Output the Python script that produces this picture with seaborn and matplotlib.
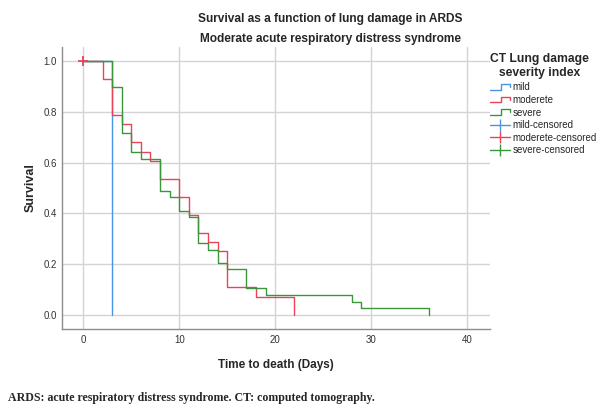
import pandas as pd
import numpy as np

import seaborn as sns
import matplotlib.pyplot as plt
from matplotlib.lines import Line2D
from matplotlib.legend_handler import HandlerBase

# Kaplan-Meier steps (day of drop, survival after the drop)
mild_days = [0, 3]
mild_surv = [1.0, 0.0]

moderate_days = [0, 2, 3, 4, 5, 6, 7, 8, 10, 11, 12, 13, 14, 15, 18, 22]
moderate_surv = [1.0, 0.929, 0.786, 0.750, 0.679, 0.643, 0.607, 0.536,
                 0.464, 0.393, 0.321, 0.286, 0.250, 0.107, 0.071, 0.0]

severe_days = [0, 3, 4, 5, 6, 8, 9, 10, 11, 12, 13, 14, 15, 17, 19, 28, 29, 36]
severe_surv = [1.0, 0.897, 0.718, 0.641, 0.615, 0.487, 0.462, 0.410, 0.385,
               0.282, 0.256, 0.205, 0.179, 0.103, 0.077, 0.051, 0.026, 0.0]

# censored observations
censored_group = ['moderete']
censored_days = [0]
censored_surv = [1.0]

groups = ['mild', 'moderete', 'severe']
colors = {'mild': '#4a94e4', 'moderete': '#e8435a', 'severe': '#3a963a'}

x_ticks = [0, 10, 20, 30, 40]
y_ticks = [0.0, 0.2, 0.4, 0.6, 0.8, 1.0]

df = pd.concat([
    pd.DataFrame({'day': mild_days, 'survival': mild_surv, 'group': 'mild'}),
    pd.DataFrame({'day': moderate_days, 'survival': moderate_surv, 'group': 'moderete'}),
    pd.DataFrame({'day': severe_days, 'survival': severe_surv, 'group': 'severe'}),
], ignore_index=True)

cens = pd.DataFrame({'day': censored_days, 'survival': censored_surv, 'group': censored_group})

sns.set_style('whitegrid')
plt.rcParams['font.family'] = ['Liberation Sans', 'DejaVu Sans']

fig = plt.figure(figsize=(5.97, 4.05), dpi=100)
ax = fig.add_axes([0.1044, 0.187, 0.7164, 0.6977])

sns.lineplot(data=df, x='day', y='survival', hue='group', hue_order=groups,
             palette=colors, drawstyle='steps-post', estimator=None, sort=False,
             linewidth=1.0, legend=False, ax=ax)
sns.scatterplot(data=cens, x='day', y='survival', hue='group', palette=colors,
                marker='+', s=45, linewidth=1.3, legend=False, ax=ax, zorder=5)

ax.set_xlim(-2.19, 42.4)
ax.set_ylim(-0.058, 1.057)
ax.set_xticks(x_ticks)
ax.set_yticks(y_ticks)
ax.set_yticklabels([f'{v:.1f}' for v in y_ticks])
ax.tick_params(axis='both', length=0, labelsize=7, labelcolor='#333333', pad=4)
ax.grid(True, color='#d4d4d4', linewidth=1.0)
for side in ['top', 'right']:
    ax.spines[side].set_visible(False)
for side in ['left', 'bottom']:
    ax.spines[side].set_color('#8c8c8c')
    ax.spines[side].set_linewidth(1.0)

ax.set_xlabel('Time to death (Days)', fontsize=8.5, fontweight='bold', labelpad=10)
ax.set_ylabel('Survival', fontsize=9, fontweight='bold', labelpad=5)

fig.text(0.553, 1 - 19 / 405, 'Survival as a function of lung damage in ARDS',
         ha='center', va='center', fontsize=8.6, fontweight='bold')
fig.text(0.553, 1 - 39 / 405, 'Moderate acute respiratory distress syndrome',
         ha='center', va='center', fontsize=8.6, fontweight='bold')
fig.text(8 / 597, 1 - 398 / 405,
         'ARDS: acute respiratory distress syndrome. CT: computed tomography.',
         ha='left', va='center', fontsize=8.6, fontweight='bold',
         family='Liberation Serif')


# legend icon shaped like a small step
class StepHandler(HandlerBase):
    def create_artists(self, legend, orig_handle, xdescent, ydescent,
                       width, height, fontsize, trans):
        x0, y0 = -xdescent, -ydescent
        xs = [x0, x0 + 0.55 * width, x0 + 0.55 * width, x0 + width, x0 + width]
        ys = [y0 + 0.1 * height, y0 + 0.1 * height, y0 + 0.9 * height,
              y0 + 0.9 * height, y0 + 0.45 * height]
        return [Line2D(xs, ys, color=orig_handle.get_color(), lw=1.0, transform=trans)]


step_handles = [Line2D([], [], color=colors[g]) for g in groups]
cens_handles = [Line2D([], [], color=colors[g], marker='|', markersize=9, lw=1.0)
                for g in groups]
labels = groups + [g + '-censored' for g in groups]

leg = ax.legend(step_handles + cens_handles, labels,
                title='CT Lung damage\nseverity index',
                loc='upper left', bbox_to_anchor=(490 / 597, 1 - 53 / 405),
                bbox_transform=fig.transFigure, frameon=False,
                fontsize=7, title_fontsize=8.7, numpoints=1,
                handlelength=2.1, handletextpad=0.2, labelspacing=0.27,
                borderaxespad=0, borderpad=0,
                handler_map={h: StepHandler() for h in step_handles})
leg.get_title().set_fontweight('bold')
leg.get_title().set_multialignment('center')
leg._legend_box.align = 'left'
leg._legend_box.sep = 2.5

fig.savefig('out.png', dpi=100)
